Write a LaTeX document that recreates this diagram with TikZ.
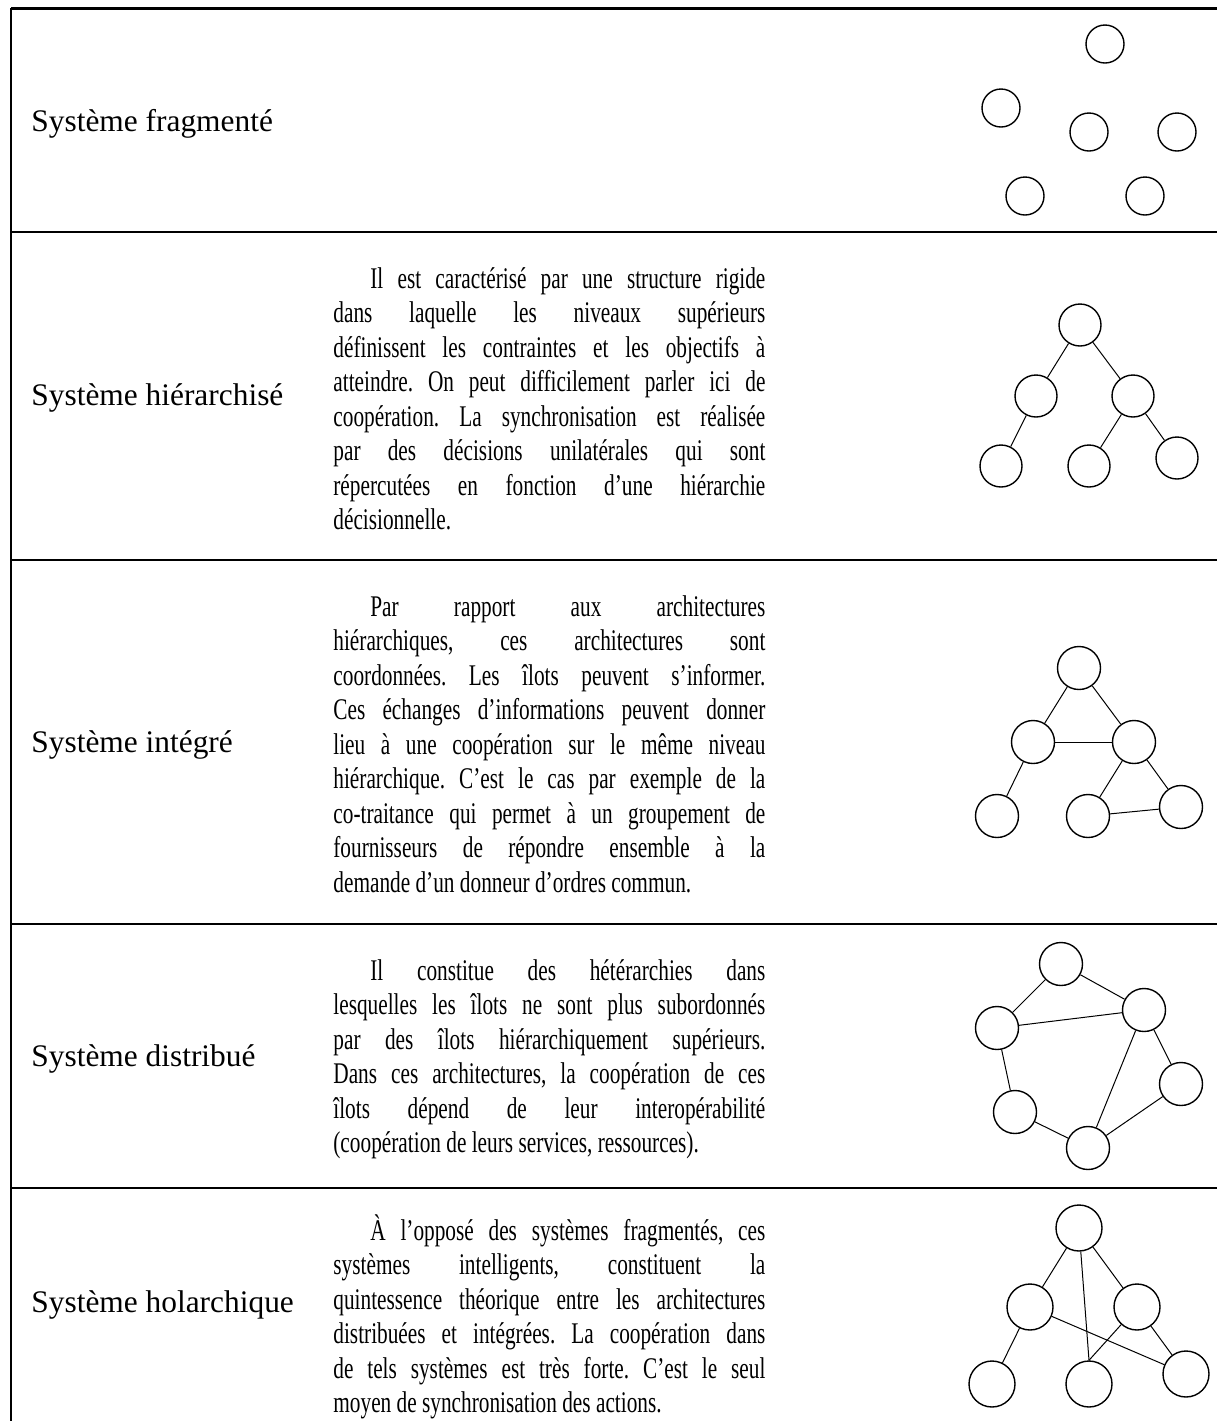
\documentclass[tikz,border=0pt]{standalone}
\usepackage{fontspec}
\setmainfont{Liberation Serif}
\newfontfamily\bodyf[FakeStretch=0.71]{Liberation Serif}
\newfontfamily\labf{Liberation Serif}
\newcommand\myJ[1]{\makebox[216pt][s]{#1}}
\newcommand\myJF[1]{\makebox[197.5pt][s]{#1}}
\frenchspacing
\begin{document}
\begin{tikzpicture}[x=0.5pt,y=-0.5pt,
  lab/.style={anchor=base west, inner sep=0pt, font=\labf\fontsize{15.7pt}{18pt}\selectfont},
  bl/.style={anchor=base west, inner sep=0pt, font=\bodyf\frenchspacing\fontsize{15pt}{17.25pt}\selectfont},
  nd/.style={circle, draw, line width=0.7pt, inner sep=0pt},
  na/.style={nd, minimum size=19pt},
  nb/.style={nd, minimum size=21pt},
  nc/.style={nd, minimum size=21.5pt},
  ne/.style={nd, minimum size=23pt},
  edge/.style={line width=0.5pt},
  rule/.style={line width=1.1pt},
  toprule/.style={line width=1.5pt}]
\useasboundingbox (0,0) rectangle (1217,1421);
% table rules
\coordinate (tl) at (11,8);
\coordinate (tr) at (1217,8);
\coordinate (bl) at (11,1421);
\coordinate (s1l) at (11,232); \coordinate (s1r) at (1217,232);
\coordinate (s2l) at (11,560); \coordinate (s2r) at (1217,560);
\coordinate (s3l) at (11,924); \coordinate (s3r) at (1217,924);
\coordinate (s4l) at (11,1188); \coordinate (s4r) at (1217,1188);
\draw[toprule] (tl) -- (tr);
\draw[rule] (tl) -- (bl);
\draw[rule] (s1l) -- (s1r);
\draw[rule] (s2l) -- (s2r);
\draw[rule] (s3l) -- (s3r);
\draw[rule] (s4l) -- (s4r);
% labels
\node[lab] (L1) at (31,131) {Système fragmenté};
\node[lab] (L2) at (31,405) {Système hiérarchisé};
\node[lab] (L3) at (31,752) {Système intégré};
\node[lab] (L4) at (31,1066) {Système distribué};
\node[lab] (L5) at (31,1312) {Système holarchique};
% row 2 text
\node[bl] (t2a) at (370,288)   {\myJF{Il est caractérisé par une structure rigide}};
\node[bl] (t2b) at (333,322.5) {\myJ{dans laquelle les niveaux supérieurs}};
\node[bl] (t2c) at (333,357)   {\myJ{définissent les contraintes et les objectifs à}};
\node[bl] (t2d) at (333,391.5) {\myJ{atteindre. On peut difficilement parler ici de}};
\node[bl] (t2e) at (333,426)   {\myJ{coopération. La synchronisation est réalisée}};
\node[bl] (t2f) at (333,460.5) {\myJ{par des décisions unilatérales qui sont}};
\node[bl] (t2g) at (333,495)   {\myJ{répercutées en fonction d’une hiérarchie}};
\node[bl] (t2h) at (333,529.5) {décisionnelle.};
% row 3 text
\node[bl] (t3a) at (370,616)   {\myJF{Par rapport aux architectures}};
\node[bl] (t3b) at (333,650.5) {\myJ{hiérarchiques, ces architectures sont}};
\node[bl] (t3c) at (333,685)   {\myJ{coordonnées. Les îlots peuvent s’informer.}};
\node[bl] (t3d) at (333,719.5) {\myJ{Ces échanges d’informations peuvent donner}};
\node[bl] (t3e) at (333,754)   {\myJ{lieu à une coopération sur le même niveau}};
\node[bl] (t3f) at (333,788.5) {\myJ{hiérarchique. C’est le cas par exemple de la}};
\node[bl] (t3g) at (333,823)   {\myJ{co-traitance qui permet à un groupement de}};
\node[bl] (t3h) at (333,857.5) {\myJ{fournisseurs de répondre ensemble à la}};
\node[bl] (t3i) at (333,892)   {demande d’un donneur d’ordres commun.};
% row 4 text
\node[bl] (t4a) at (370,980)    {\myJF{Il constitue des hétérarchies dans}};
\node[bl] (t4b) at (333,1014.5) {\myJ{lesquelles les îlots ne sont plus subordonnés}};
\node[bl] (t4c) at (333,1049)   {\myJ{par des îlots hiérarchiquement supérieurs.}};
\node[bl] (t4d) at (333,1083.5) {\myJ{Dans ces architectures, la coopération de ces}};
\node[bl] (t4e) at (333,1118)   {\myJ{îlots dépend de leur interopérabilité}};
\node[bl] (t4f) at (333,1152.5) {(coopération de leurs services, ressources).};
% row 5 text
\node[bl] (t5a) at (370,1240)   {\myJF{À l’opposé des systèmes fragmentés, ces}};
\node[bl] (t5b) at (333,1274.5) {\myJ{systèmes intelligents, constituent la}};
\node[bl] (t5c) at (333,1309)   {\myJ{quintessence théorique entre les architectures}};
\node[bl] (t5d) at (333,1343.5) {\myJ{distribuées et intégrées. La coopération dans}};
\node[bl] (t5e) at (333,1378)   {\myJ{de tels systèmes est très forte. C’est le seul}};
\node[bl] (t5f) at (333,1412.5) {moyen de synchronisation des actions.};
% row 1 diagram
\node[na] (f1) at (1105,44) {};
\node[na] (f2) at (1001,108) {};
\node[na] (f3) at (1089,132) {};
\node[na] (f4) at (1177,132) {};
\node[na] (f5) at (1025,196) {};
\node[na] (f6) at (1145,196) {};
% row 2 diagram
\node[nb] (h1) at (1080,325) {};
\node[nb] (h2) at (1036,396) {};
\node[nb] (h3) at (1133,396) {};
\node[nb] (h4) at (1001,466) {};
\node[nb] (h5) at (1089,466) {};
\node[nb] (h6) at (1177,458) {};
\draw[edge] (h1) -- (h2);
\draw[edge] (h1) -- (h3);
\draw[edge] (h2) -- (h4);
\draw[edge] (h3) -- (h5);
\draw[edge] (h3) -- (h6);
% row 3 diagram
\node[nc] (i1) at (1079,668) {};
\node[nc] (i2) at (1033,742) {};
\node[nc] (i3) at (1134,742) {};
\node[nc] (i4) at (997,816) {};
\node[nc] (i5) at (1088,816) {};
\node[nc] (i6) at (1181,807) {};
\draw[edge] (i1) -- (i2);
\draw[edge] (i1) -- (i3);
\draw[edge] (i2) -- (i3);
\draw[edge] (i2) -- (i4);
\draw[edge] (i3) -- (i5);
\draw[edge] (i3) -- (i6);
\draw[edge] (i5) -- (i6);
% row 4 diagram
\node[nc] (d1) at (1061,964) {};
\node[nc] (d2) at (997,1028) {};
\node[nc] (d3) at (1144,1010) {};
\node[nc] (d4) at (1181,1084) {};
\node[nc] (d5) at (1015,1112) {};
\node[nc] (d6) at (1088,1148) {};
\draw[edge] (d1) -- (d2);
\draw[edge] (d1) -- (d3);
\draw[edge] (d2) -- (d3);
\draw[edge] (d2) -- (d5);
\draw[edge] (d5) -- (d6);
\draw[edge] (d3) -- (d6);
\draw[edge] (d3) -- (d4);
\draw[edge] (d4) -- (d6);
% row 5 diagram
\node[ne] (o1) at (1079,1228) {};
\node[ne] (o2) at (1030,1307) {};
\node[ne] (o3) at (1137,1307) {};
\node[ne] (o4) at (992,1384) {};
\node[ne] (o5) at (1089,1384) {};
\node[ne] (o6) at (1186,1374) {};
\draw[edge] (o1) -- (o2);
\draw[edge] (o1) -- (o3);
\draw[edge] (o1) -- (o5.north);
\draw[edge] (o2) -- (o4);
\draw[edge] (o3) -- (o5.north);
\draw[edge] (o3) -- (o6);
\draw[edge] (o2) -- (o6);
\end{tikzpicture}
\end{document}
